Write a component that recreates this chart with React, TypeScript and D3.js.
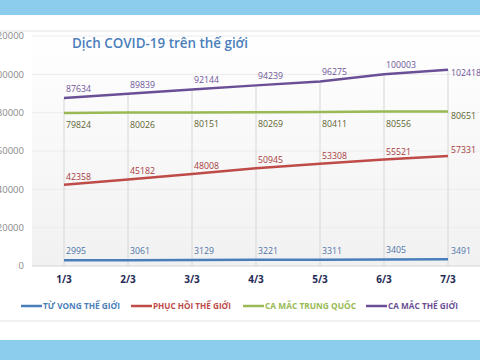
import React from "react";
import * as d3 from "d3";

const categories = ["1/3", "2/3", "3/3", "4/3", "5/3", "6/3", "7/3"];
const deaths = [2995, 3061, 3129, 3221, 3311, 3405, 3491];
const recovered = [42358, 45182, 48008, 50945, 53308, 55521, 57331];
const chinaCases = [79824, 80026, 80151, 80269, 80411, 80556, 80651];
const worldCases = [87634, 89839, 92144, 94239, 96275, 100003, 102418];
const yTicks = [0, 20000, 40000, 60000, 80000, 100000, 120000];
const seriesNames = ["TỪ VONG THẾ GIỚI", "PHỤC HỒI THẾ GIỚI", "CA MẮC TRUNG QUỐC", "CA MẮC THẾ GIỚI"];

const W = 480, H = 360;
const font = "'Open Sans', 'Noto Sans', sans-serif";

export default function App() {
  const x = d3.scaleBand<string>().domain(categories).range([32, 480]);
  const y = d3.scaleLinear().domain([0, 120000]).range([266, 36]);
  const cx = (c: string) => (x(c) as number) + x.bandwidth() / 2;

  const series = [
    { name: seriesNames[0], values: deaths, color: "#4a7ebb", label: "#4f74a8", dy: -6, lastDy: -9 },
    { name: seriesNames[1], values: recovered, color: "#be4b48", label: "#a8393c", dy: -5, lastDy: -6 },
    { name: seriesNames[2], values: chinaCases, color: "#98b954", label: "#5c6230", dy: 15, lastDy: 4 },
    { name: seriesNames[3], values: worldCases, color: "#6b4f96", label: "#6f559a", dy: -6, lastDy: 3 },
  ];

  const line = d3
    .line<number>()
    .x((_, i) => cx(categories[i]))
    .y((v) => y(v));

  const legendX = [21, 131, 243, 366];
  const legendW = [77, 78, 91, 70];

  return (
    <svg width={W} height={H} style={{ position: "absolute", left: 0, top: 0 }} fontFamily={font}>
      <defs>
        <linearGradient id="plotbg" x1="0" y1="0" x2="0" y2="1">
          <stop offset="0" stopColor="#ffffff" />
          <stop offset="1" stopColor="#f1f1f1" />
        </linearGradient>
      </defs>
      <rect x={0} y={0} width={W} height={H} fill="#ffffff" />
      <rect x={0} y={0} width={W} height={15} fill="#8ccdee" />
      <rect x={0} y={340} width={W} height={20} fill="#8ccdee" />
      <line x1={0} x2={W} y1={31} y2={31} stroke="#e4e4e4" />
      <line x1={0} x2={W} y1={321} y2={321} stroke="#e4e4e4" />
      <rect x={32} y={32} width={448} height={234} fill="url(#plotbg)" />

      {yTicks.map((t) => (
        <g key={t}>
          <line x1={32} x2={480} y1={y(t)} y2={y(t)} stroke={t === 0 ? "#d4d4d4" : "#ececec"} />
          <text x={24} y={y(t)} dy="0.35em" textAnchor="end" fontSize={9.5} fill="#8a8a8a">
            {t}
          </text>
        </g>
      ))}

      {categories.map((c, i) => (
        <line key={c} x1={cx(c)} x2={cx(c)} y1={y(worldCases[i])} y2={y(0)} stroke="#d6d6d6" />
      ))}

      <text x={72} y={48} fontSize={14.5} fontWeight={600} fill="#4a7ebb" textLength={176} lengthAdjust="spacingAndGlyphs">
        Dịch COVID-19 trên thế giới
      </text>

      {series.map((s) => (
        <path key={s.name} d={line(s.values) || ""} fill="none" stroke={s.color} strokeWidth={2.5} />
      ))}

      {series.map((s) =>
        s.values.map((v, i) => {
          const last = i === s.values.length - 1;
          const txt = String(v);
          return (
            <text
              key={s.name + i}
              x={cx(categories[i]) + (last ? 3 : 2)}
              y={y(v) + (last ? s.lastDy : s.dy)}
              dy={last ? "0.35em" : 0}
              fontSize={9.5}
              fill={s.label}
              textLength={txt.length * 5}
              lengthAdjust="spacingAndGlyphs"
            >
              {txt}
            </text>
          );
        })
      )}

      {categories.map((c) => (
        <text key={c} x={cx(c)} y={283} textAnchor="middle" fontSize={10} fontWeight={700} fill="#1f2b57">
          {c}
        </text>
      ))}

      {series.map((s, i) => (
        <g key={s.name} transform={`translate(${legendX[i]},306)`}>
          <line x1={0} x2={21} y1={0} y2={0} stroke={s.color} strokeWidth={2.5} />
          <text x={22} y={0} dy="0.35em" fontSize={8.5} fontWeight={700} fill={s.color} textLength={legendW[i]} lengthAdjust="spacingAndGlyphs">
            {s.name}
          </text>
        </g>
      ))}
    </svg>
  );
}
